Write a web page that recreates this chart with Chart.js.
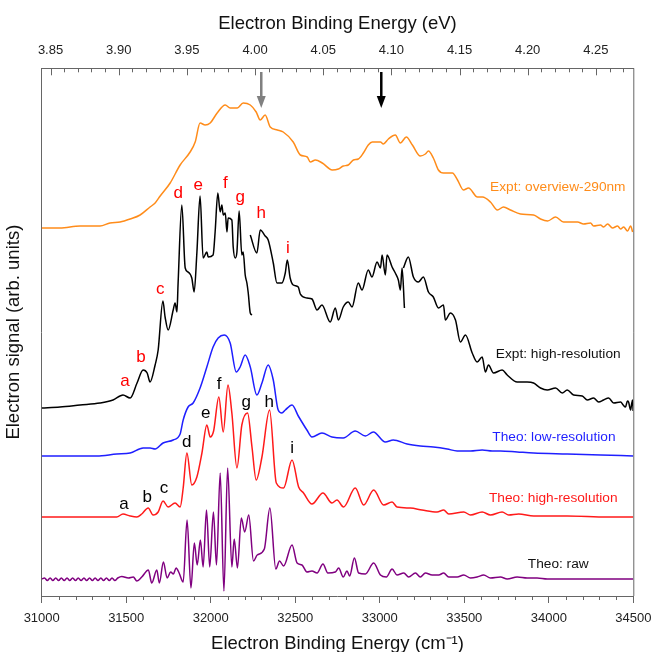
<!DOCTYPE html>
<html>
<head>
<meta charset="utf-8">
<script src="https://cdn.jsdelivr.net/npm/chart.js@4"></script>
<style>
  body { margin: 0; background: #fff; }
  #wrap { width: 654px; height: 652px; }
</style>
</head>
<body>
<div id="wrap"><canvas id="spectrum" width="654" height="652"></canvas></div>
<script>
// photon energy in cm^-1 vs. signal (arb. units, stacked traces)
const cmPerEv = 8065.54;

const overview = [
  [31000,368],[31108,368],[31227,370],[31345,370],[31404,373],[31464,374],[31523,377],[31582,381],
  [31641,389],[31671,393],[31701,400],[31760,413],[31819,431],[31878,444],[31908,454],[31937,473],
  [31967,471],[31997,473],[32038,483],[32086,491],[32115,488],[32157,488],[32192,493],[32234,491],
  [32269,484],[32293,476],[32322,481],[32352,469],[32394,466],[32429,464],[32488,454],[32530,441],
  [32571,439],[32589,434],[32619,436],[32660,433],[32719,426],[32755,427],[32784,430],[32814,431],
  [32844,436],[32873,437],[32903,443],[32932,451],[32956,454],[33004,454],[33021,452],[33051,457],
  [33092,461],[33122,453],[33157,459],[33193,451],[33240,440],[33270,442],[33288,445],[33317,438],
  [33347,426],[33377,423],[33430,423],[33460,416],[33495,406],[33525,408],[33578,399],[33608,399],
  [33655,394],[33696,386],[33732,389],[33773,386],[33833,382],[33910,381],[33951,377],[33993,375],
  [34040,379],[34087,374],[34170,374],[34206,372],[34247,373],[34265,370],[34306,371],[34324,369],
  [34348,372],[34377,368],[34407,370],[34425,367],[34443,369],[34466,365],[34484,370],[34496,364]
];

// high-resolution experiment was recorded in three overlapping pieces
const hiresA = [
  [31000,188],[31108,189],[31227,191],[31345,193],[31422,196],[31481,201],[31523,198],[31564,213],
  [31600,226],[31624,223],[31641,214],[31671,231],[31689,246],[31717,295],[31730,279],[31748,266],
  [31778,286],[31789,293],[31800,284],[31807,313],[31829,391],[31849,328],[31866,324],[31888,318],
  [31902,304],[31918,343],[31937,400],[31955,338],[31977,344],[31985,339],[32014,341],[32026,364],
  [32042,403],[32056,384],[32066,391],[32074,381],[32086,383],[32096,364],[32103,378],[32125,376],
  [32133,349],[32145,338],[32155,344],[32168,385],[32184,341],[32192,344],[32204,321],[32214,313],
  [32222,303],[32234,283],[32244,281]
];
const hiresB = [
  [32234,361],[32273,343],[32293,366],[32322,360],[32340,356],[32370,333],[32392,313],[32421,313],
  [32441,323],[32453,336],[32470,318],[32488,311],[32518,309],[32530,302],[32569,298],[32599,297],
  [32629,286],[32658,291],[32707,274],[32737,288],[32755,276],[32784,289],[32814,294],[32836,289],
  [32873,313],[32895,306],[32932,326],[32954,319],[32984,334],[33004,328],[33014,341],[33033,321],
  [33043,341],[33073,329],[33092,323],[33110,316],[33122,306],[33132,328],[33146,288]
];
const hiresC = [
  [33140,328],[33169,339],[33199,319],[33229,314],[33258,319],[33288,304],[33317,299],[33347,288],
  [33377,291],[33388,276],[33418,283],[33448,276],[33477,254],[33507,261],[33547,243],[33576,234],
  [33606,239],[33625,224],[33643,231],[33673,223],[33724,226],[33754,221],[33813,214],[33872,214],
  [33910,213],[33951,208],[33991,206],[34040,208],[34080,203],[34109,206],[34147,201],[34198,200],
  [34228,196],[34265,198],[34295,194],[34324,196],[34354,198],[34384,193],[34425,194],[34440,191],
  [34454,189],[34465,195],[34472,194],[34484,186],[34490,192],[34496,196],[34499,185]
];

const theoLow = [
  [31000,140],[31326,140],[31444,142],[31523,143],[31600,148],[31641,148],[31671,147],[31718,153],
  [31778,156],[31819,162],[31837,176],[31866,189],[31896,193],[31937,208],[31977,229],[32014,249],
  [32044,258],[32080,261],[32115,253],[32151,224],[32174,229],[32204,241],[32234,229],[32273,201],
  [32303,213],[32340,231],[32370,216],[32399,186],[32421,183],[32441,186],[32481,191],[32518,180],
  [32569,166],[32599,159],[32658,163],[32717,159],[32784,158],[32855,165],[32915,160],[32962,164],
  [33033,154],[33080,156],[33162,152],[33240,150],[33317,149],[33399,147],[33458,145],[33537,145],
  [33606,146],[33665,145],[33714,145],[33813,144],[33910,143],[34109,142],[34307,141],[34500,140]
];

const theoHigh = [
  [31000,79],[31326,79],[31444,79],[31481,82],[31523,80],[31563,79],[31592,82],[31630,88],
  [31659,81],[31689,84],[31718,95],[31748,89],[31789,93],[31819,89],[31837,108],[31859,143],
  [31888,111],[31918,119],[31948,143],[31977,171],[31997,159],[32017,165],[32048,199],[32074,164],
  [32102,211],[32125,183],[32155,128],[32184,171],[32218,183],[32244,149],[32269,116],[32303,139],
  [32348,186],[32388,113],[32431,108],[32481,136],[32520,109],[32549,103],[32599,92],[32664,103],
  [32717,93],[32747,96],[32786,89],[32855,108],[32905,91],[32964,106],[33023,91],[33073,94],
  [33102,89],[33181,88],[33250,86],[33339,84],[33378,86],[33408,82],[33497,84],[33537,81],
  [33606,84],[33655,81],[33724,84],[33763,81],[33822,82],[33911,80],[34109,80],[34346,79],[34500,79]
];

const theoRaw = [
  [31000,17],[31017,18],[31033,15.5],[31050,18],[31066,15.5],[31083,18],[31100,15.5],[31116,18],
  [31133,15.5],[31150,18],[31166,15.5],[31183,18],[31200,15.5],[31216,18],[31233,15.5],[31250,18],
  [31266,15.5],[31283,18],[31300,15.5],[31316,18],[31333,15.5],[31350,18],[31366,15.5],[31383,18],
  [31400,15.5],[31416,18],[31433,15.5],[31450,18],[31474,19.5],[31513,18],[31542,19],[31563,15],
  [31592,19],[31631,26],[31651,13],[31681,26],[31696,13],[31720,34],[31742,18],[31763,24],
  [31779,22],[31795,28],[31813,23],[31837,14],[31860,76],[31883,8],[31903,53],[31920,31],
  [31939,56],[31955,29],[31975,86],[31994,29],[32016,84],[32034,31],[32056,123],[32078,5],
  [32100,128],[32125,29],[32139,57],[32158,28],[32181,78],[32201,64],[32225,81],[32253,35],
  [32275,41],[32317,47],[32350,88],[32385,27],[32407,35],[32431,30],[32481,51],[32511,33],
  [32540,31],[32569,24],[32599,25],[32629,23],[32664,32],[32693,23],[32737,24],[32757,28],
  [32784,19],[32806,25],[32822,20],[32850,38],[32875,23],[32915,22],[32964,33],[33004,21],
  [33039,19],[33073,27],[33102,21],[33142,23],[33171,19],[33211,23],[33240,19],[33270,23],
  [33310,21],[33349,21],[33378,23],[33408,19],[33458,19],[33497,21],[33537,18],[33576,19],
  [33615,21],[33655,18],[33714,19],[33754,17],[33813,19],[33872,18],[33931,18],[33991,17],
  [34109,17],[34208,17],[34307,17],[34500,17]
];

// peak letters: [letter, cm-1, signal]
const exptPeaks = [
  ['a',31493,215],['b',31588,239],['c',31701,307],['d',31807,403],['e',31926,411],
  ['f',32086,413],['g',32174,399],['h',32299,383],['i',32457,348]
];
const theoPeaks = [
  ['a',31487,92],['b',31624,99],['c',31724,108],['d',31858,154],['e',31970,183],
  ['f',32050,212],['g',32210,194],['h',32346,194],['i',32482,148]
];

// trace names, right aligned: [text, cm-1, signal, colour]
const traceNames = [
  ['Expt: overview-290nm', 34454, 409, '#ff8c1a'],
  ['Expt: high-resolution', 34425, 242, '#111111'],
  ['Theo: low-resolution', 34395, 159, '#1f1fff'],
  ['Theo: high-resolution', 34407, 98, '#ff1a1a'],
  ['Theo: raw', 34236, 32, '#111111']
];

// arrows: [cm-1, top signal, tip signal, colour]
const arrows = [
  [32299, 524, 488, '#808080'],
  [33009, 524, 488, '#000000']
];

const FONT = 'Arial, "Liberation Sans", sans-serif';
const frameColor = '#666666';

function pts(arr) {
    return arr.map(p => ({x: p[0], y: p[1]}));
}

function lineSet(arr, color) {
    return {
        data: pts(arr),
        borderColor: color,
        borderWidth: 1.5,
        pointRadius: 0,
        cubicInterpolationMode: 'monotone',
        fill: false
    };
}

// keep the plot frame where the reference has it
function fixHeight(h) {
    return s => {
        s.height = h;
        s.paddingLeft = 0;
        s.paddingRight = 0;
    };
}

// extra drawing: minor ticks, top ticks, right frame, labels and arrows
const decorPlugin = {
    id: 'decor',
    afterDraw(chart) {
        const ctx = chart.ctx;
        const xs = chart.scales.x;
        const xt = chart.scales.xTop;
        const ys = chart.scales.y;
        const area = chart.chartArea;

        ctx.save();
        ctx.strokeStyle = frameColor;
        ctx.lineWidth = 1;

        // right frame
        ctx.beginPath();
        ctx.moveTo(area.right + 0.5, area.top);
        ctx.lineTo(area.right + 0.5, area.bottom);
        ctx.stroke();

        // bottom minor ticks (outward)
        ctx.beginPath();
        for (let v = 31000; v <= 34500; v += 100) {
            if (v % 500 === 0) continue;
            const px = Math.round(xs.getPixelForValue(v)) + 0.5;
            ctx.moveTo(px, area.bottom);
            ctx.lineTo(px, area.bottom + 4);
        }
        ctx.stroke();

        // top ticks (inward), 0.01 eV minor, 0.05 eV major
        ctx.beginPath();
        for (let i = 385; i <= 427; i++) {
            const ev = i / 100;
            const px = Math.round(xt.getPixelForValue(ev)) + 0.5;
            if (px < area.left || px > area.right) continue;
            const len = (i % 5 === 0) ? 7 : 4;
            ctx.moveTo(px, area.top);
            ctx.lineTo(px, area.top + len);
        }
        ctx.stroke();

        // arrows
        arrows.forEach(a => {
            const px = xs.getPixelForValue(a[0]);
            const y0 = ys.getPixelForValue(a[1]);
            const y1 = ys.getPixelForValue(a[2]);
            ctx.strokeStyle = a[3];
            ctx.fillStyle = a[3];
            ctx.lineWidth = 2.5;
            ctx.beginPath();
            ctx.moveTo(px, y0);
            ctx.lineTo(px, y1 - 10);
            ctx.stroke();
            ctx.beginPath();
            ctx.moveTo(px - 4.5, y1 - 12);
            ctx.lineTo(px + 4.5, y1 - 12);
            ctx.lineTo(px, y1);
            ctx.closePath();
            ctx.fill();
        });

        // trace names
        ctx.textBaseline = 'middle';
        ctx.textAlign = 'right';
        ctx.font = '13.7px ' + FONT;
        traceNames.forEach(t => {
            ctx.fillStyle = t[3];
            ctx.fillText(t[0], xs.getPixelForValue(t[1]), ys.getPixelForValue(t[2]));
        });

        // peak letters
        ctx.textAlign = 'center';
        ctx.font = '17px ' + FONT;
        ctx.fillStyle = '#ff0000';
        exptPeaks.forEach(p => {
            ctx.fillText(p[0], xs.getPixelForValue(p[1]), ys.getPixelForValue(p[2]));
        });
        ctx.fillStyle = '#000000';
        theoPeaks.forEach(p => {
            ctx.fillText(p[0], xs.getPixelForValue(p[1]), ys.getPixelForValue(p[2]));
        });

        ctx.restore();
    }
};

new Chart(document.getElementById('spectrum').getContext('2d'), {
    type: 'line',
    data: {
        datasets: [
            lineSet(overview, '#ff8c1a'),
            lineSet(hiresA, '#000000'),
            lineSet(hiresB, '#000000'),
            lineSet(hiresC, '#000000'),
            lineSet(theoLow, '#1f1fff'),
            lineSet(theoHigh, '#ff1a1a'),
            lineSet(theoRaw, '#800080')
        ]
    },
    options: {
        responsive: false,
        animation: false,
        devicePixelRatio: 1,
        layout: { padding: { left: 0, top: 0, right: 20.7, bottom: 0 } },
        plugins: {
            legend: { display: false },
            tooltip: { enabled: false }
        },
        scales: {
            x: {
                type: 'linear',
                position: 'bottom',
                min: 31000,
                max: 34500,
                afterFit: fixHeight(56),
                ticks: {
                    stepSize: 500,
                    padding: 8,
                    color: '#222222',
                    font: { family: FONT, size: 13 },
                    maxRotation: 0,
                    callback: v => String(v)
                },
                grid: {
                    drawOnChartArea: false,
                    drawTicks: true,
                    tickLength: 7,
                    color: frameColor
                },
                border: { display: true, color: frameColor },
                title: {
                    display: true,
                    text: 'Electron Binding Energy (cm⁻¹)',
                    color: '#111111',
                    font: { family: FONT, size: 18.5 },
                    padding: { top: 0, bottom: -3 }
                }
            },
            xTop: {
                type: 'linear',
                position: 'top',
                axis: 'x',
                min: 31000 / cmPerEv,
                max: 34500 / cmPerEv,
                afterFit: fixHeight(68.3),
                ticks: {
                    stepSize: 0.05,
                    includeBounds: false,
                    padding: 10,
                    color: '#222222',
                    font: { family: FONT, size: 13 },
                    maxRotation: 0,
                    callback: v => v.toFixed(2)
                },
                grid: { drawOnChartArea: false, drawTicks: false },
                border: { display: true, color: frameColor },
                title: {
                    display: true,
                    text: 'Electron Binding Energy (eV)',
                    color: '#111111',
                    font: { family: FONT, size: 18.5 },
                    padding: { top: 13, bottom: 0 }
                }
            },
            y: {
                type: 'linear',
                min: 0,
                max: 527.7,
                afterFit: s => { s.width = 41.7; },
                ticks: { display: false },
                grid: { display: false },
                border: { display: true, color: frameColor },
                title: {
                    display: true,
                    text: 'Electron signal (arb. units)',
                    color: '#111111',
                    font: { family: FONT, size: 18.5 },
                    padding: { top: 3, bottom: 0 }
                }
            }
        }
    },
    plugins: [decorPlugin]
});
</script>
</body>
</html>
